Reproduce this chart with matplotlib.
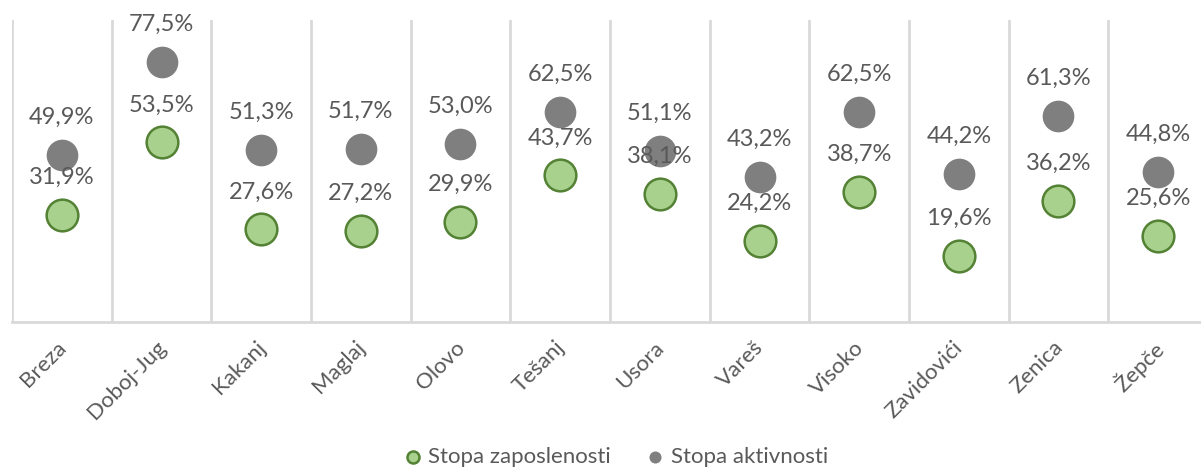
import matplotlib.pyplot as plt
import matplotlib.transforms as mtransforms
import numpy as np

plt.rcParams["font.family"] = ["Lato", "DejaVu Sans"]

# Data
opcine = ["Breza", "Doboj-Jug", "Kakanj", "Maglaj", "Olovo", "Tešanj",
          "Usora", "Vareš", "Visoko", "Zavidovići", "Zenica", "Žepče"]
zaposlenost = [31.9, 53.5, 27.6, 27.2, 29.9, 43.7, 38.1, 24.2, 38.7, 19.6, 36.2, 25.6]
aktivnost = [49.9, 77.5, 51.3, 51.7, 53.0, 62.5, 51.1, 43.2, 62.5, 44.2, 61.3, 44.8]

txt = "#595959"
green_fill = "#a9d18e"
green_edge = "#548235"
gray = "#7f7f7f"

fig = plt.figure(figsize=(12.01, 4.70), dpi=100)
ax = fig.add_axes([12 / 1201, 148 / 470, 1196 / 1201, 302 / 470])

x = np.arange(len(opcine))
ax.scatter(x, aktivnost, s=520, color=gray, zorder=3, label="Stopa aktivnosti", linewidths=0)
ax.scatter(x, zaposlenost, s=520, color=green_fill, edgecolors=green_edge, linewidths=1.8,
           zorder=4, label="Stopa zaposlenosti")

for xi, v in zip(x, aktivnost):
    ax.annotate(f"{v:.1f}%".replace(".", ","), (xi, v), xytext=(0, 27),
                textcoords="offset points", ha="center", va="center",
                fontsize=17, color=txt, zorder=5)
for xi, v in zip(x, zaposlenost):
    ax.annotate(f"{v:.1f}%".replace(".", ","), (xi, v), xytext=(0, 27),
                textcoords="offset points", ha="center", va="center",
                fontsize=17, color=txt, zorder=5)

ax.set_xlim(-0.5, len(opcine) - 0.5)
ax.set_ylim(0, 90)
ax.set_yticks([])

ax.set_xticks(x)
ax.set_xticklabels(opcine, rotation=45, ha="right", rotation_mode="anchor",
                   fontsize=16, color=txt)
ax.tick_params(axis="x", length=0, pad=11)
shift = mtransforms.ScaledTranslation(-6 / 100, 0, fig.dpi_scale_trans)
for lbl in ax.get_xticklabels():
    lbl.set_transform(lbl.get_transform() + shift)
ax.set_xticks(np.arange(-0.5, len(opcine)), minor=True)
ax.tick_params(axis="x", which="minor", length=0)
ax.grid(True, which="minor", axis="x", color="#d9d9d9", linewidth=2)

for s in ["top", "right", "left"]:
    ax.spines[s].set_visible(False)
ax.spines["bottom"].set_color("#d9d9d9")
ax.spines["bottom"].set_linewidth(2)

handles, labels = ax.get_legend_handles_labels()
leg = fig.legend(handles[::-1], labels[::-1], loc="center", bbox_to_anchor=(616 / 1201, 13 / 470),
                 ncol=2, frameon=False, fontsize=16, markerscale=0.38,
                 handlelength=0.8, handletextpad=0.3, columnspacing=1.6, labelcolor=txt)

fig.savefig("out.png", dpi=100)
